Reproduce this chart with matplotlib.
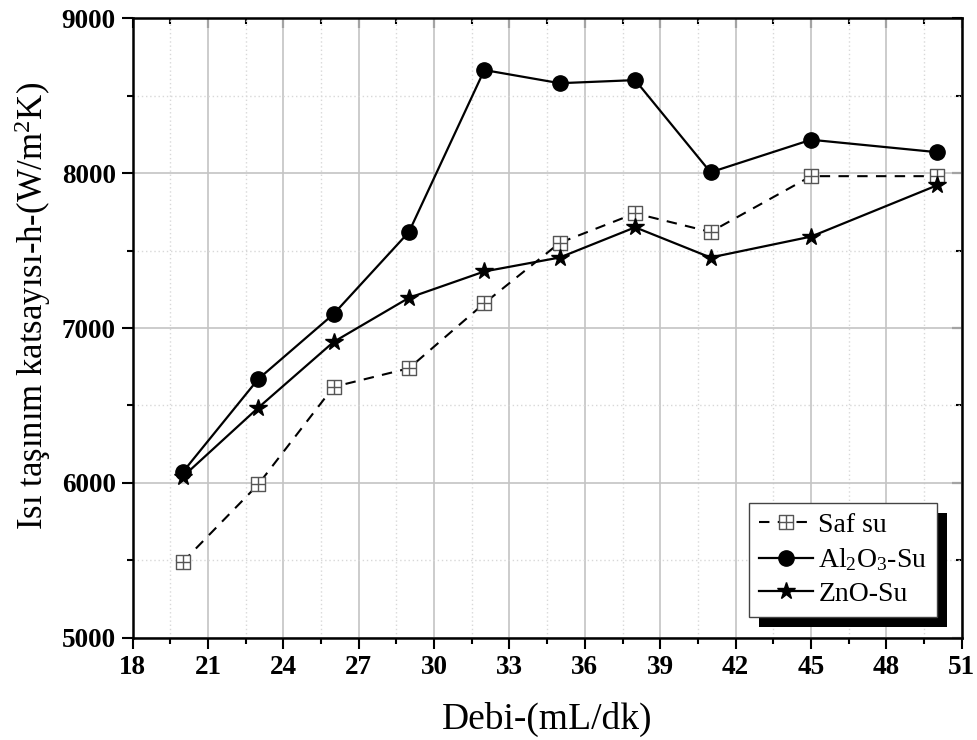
"""Isı taşınım katsayısı vs debi for pure water and two nanofluids."""

import matplotlib
matplotlib.use("Agg")
import matplotlib.pyplot as plt
from matplotlib.path import Path
from matplotlib.patches import Rectangle
from matplotlib.ticker import MultipleLocator

plt.rcParams["font.family"] = ["Liberation Serif", "DejaVu Serif"]
plt.rcParams["mathtext.fontset"] = "custom"
plt.rcParams["mathtext.rm"] = "Liberation Serif"
plt.rcParams["mathtext.it"] = "Liberation Serif:italic"

# flow rate (mL/dk)
debi = [20, 23, 26, 29, 32, 35, 38, 41, 45, 50]

# heat transfer coefficient h (W/m2K)
saf_su = [5490, 5990, 6620, 6740, 7160, 7550, 7740, 7620, 7980, 7980]
al2o3_su = [6070, 6670, 7090, 7620, 8665, 8580, 8600, 8005, 8215, 8135]
zno_su = [6040, 6485, 6910, 7195, 7365, 7455, 7650, 7455, 7590, 7920]

labels = ["Saf su", r"Al$_2$O$_3$-Su", "ZnO-Su"]

# square with a cross inside (boxed plus)
verts = [(-1, -1), (1, -1), (1, 1), (-1, 1), (-1, -1),
         (-1, 0), (1, 0), (0, -1), (0, 1)]
codes = [Path.MOVETO, Path.LINETO, Path.LINETO, Path.LINETO, Path.CLOSEPOLY,
         Path.MOVETO, Path.LINETO, Path.MOVETO, Path.LINETO]
boxplus = Path(verts, codes)

fig = plt.figure(figsize=(9.78, 7.4), dpi=100)
ax = fig.add_axes([0.1355, 0.138, 0.848, 0.8375])

ax.plot(debi, saf_su, color="black", linestyle=(0, (5, 4)), linewidth=1.5,
        marker=boxplus, markersize=10.5, markerfacecolor="white",
        markeredgecolor="#555555", markeredgewidth=1.0, label=labels[0], zorder=3)
ax.plot(debi, al2o3_su, color="black", linewidth=1.6, marker="o", markersize=11,
        markerfacecolor="black", markeredgecolor="black", label=labels[1], zorder=4)
ax.plot(debi, zno_su, color="black", linewidth=1.6, marker="*", markersize=13,
        markerfacecolor="black", markeredgecolor="black", label=labels[2], zorder=4)

ax.set_xlim(18, 51)
ax.set_ylim(5000, 9000)
ax.xaxis.set_major_locator(MultipleLocator(3))
ax.xaxis.set_minor_locator(MultipleLocator(1.5))
ax.yaxis.set_major_locator(MultipleLocator(1000))
ax.yaxis.set_minor_locator(MultipleLocator(500))

ax.grid(which="major", color="#c4c4c4", linewidth=1.2, linestyle="-")
ax.grid(which="minor", color="#d8d8d8", linewidth=1.0, linestyle=(0, (1, 2)))
ax.set_axisbelow(True)

for sp in ax.spines.values():
    sp.set_linewidth(1.8)

ax.tick_params(which="both", direction="out", width=1.5, top=False, right=False)
ax.tick_params(which="major", length=8)
ax.tick_params(which="minor", length=4)
ax.tick_params(axis="both", labelsize=19.5, pad=4)
for lbl in ax.get_xticklabels() + ax.get_yticklabels():
    lbl.set_fontweight("bold")

# inward ticks on the right and top spines
ax_r = ax.secondary_yaxis("right")
ax_r.yaxis.set_major_locator(MultipleLocator(1000))
ax_r.yaxis.set_minor_locator(MultipleLocator(500))
ax_r.tick_params(which="both", direction="in", width=1.5, labelright=False)
ax_r.tick_params(which="major", length=7)
ax_r.tick_params(which="minor", length=4)
ax_t = ax.secondary_xaxis("top")
ax_t.xaxis.set_major_locator(MultipleLocator(3))
ax_t.xaxis.set_minor_locator(MultipleLocator(1.5))
ax_t.tick_params(which="both", direction="in", width=1.5, labeltop=False)
ax_t.tick_params(which="major", length=7)
ax_t.tick_params(which="minor", length=4)

ax.set_xlabel("Debi-(mL/dk)", fontsize=27, labelpad=16)
ax.set_ylabel(r"Isı taşınım katsayısı-h-(W/m$^2$K)", fontsize=25)
ax.yaxis.set_label_coords(-0.096, 0.535)

leg = ax.legend(loc="lower right", bbox_to_anchor=(0.970, 0.034), fontsize=20,
                frameon=True, fancybox=False, edgecolor="#444444",
                facecolor="white", framealpha=1.0,
                handlelength=1.95, handletextpad=0.2, borderpad=0.35,
                labelspacing=0.3, borderaxespad=0)
leg.get_frame().set_linewidth(1.0)
leg.set_zorder(6)

# solid black drop shadow behind the legend box
fig.canvas.draw()
bb = leg.get_window_extent()
shadow = Rectangle((bb.x0 + 10, bb.y0 - 10), bb.width, bb.height, transform=None,
                   facecolor="black", edgecolor="none", zorder=5.5, clip_on=False)
ax.add_patch(shadow)

fig.savefig("out.png", dpi=100)
plt.close(fig)
